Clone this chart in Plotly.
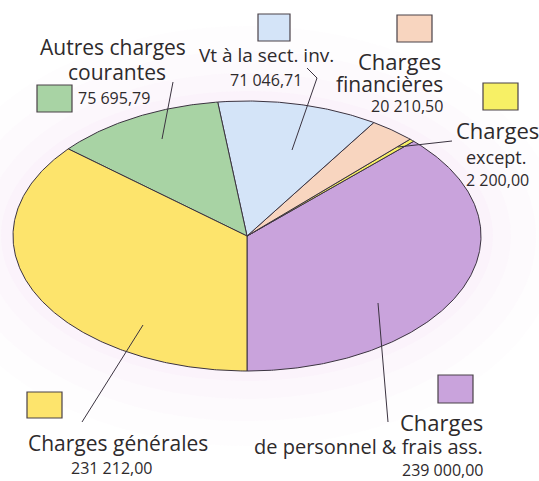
import numpy as np
import plotly.graph_objects as go

# ---- data ----
categories = ["Charges de personnel & frais ass.", "Charges except.", "Charges financières",
              "Vt à la sect. inv.", "Autres charges courantes", "Charges générales"]
values = [239000.00, 2200.00, 20210.50, 71046.71, 75695.79, 231212.00]
value_labels = ["239 000,00", "2 200,00", "20 210,50", "71 046,71", "75 695,79", "231 212,00"]
colors = ["#c9a3dc", "#f7f065", "#f8d5bf", "#d4e4f8", "#a8d3a4", "#fde46c"]

W, H = 539, 481
CX, CY, RX, RY = 247, 236, 234, 135   # pie centre / radii in pixels (layout)

def ax(px):
    return (px - CX) / RX

def ay(py):
    return (CY - py) / RY

fig = go.Figure()

# background halo
for gx, gy, a in [(80, 75, 0.06), (55, 50, 0.07), (30, 28, 0.08), (12, 10, 0.09)]:
    fig.add_shape(type="circle", xref="x", yref="y",
                  x0=ax(CX - RX - gx), x1=ax(CX + RX + gx),
                  y0=ay(CY + RY + gy), y1=ay(CY - RY - gy),
                  fillcolor=f"rgba(240,215,240,{a})", line_width=0, layer="below")

total = sum(values)
start = -90.0
for cat, v, c in zip(categories, values, colors):
    sweep = 360.0 * v / total
    t = np.radians(np.linspace(start, start + sweep, max(int(sweep * 2), 4)))
    xs = np.concatenate([[0], np.cos(t), [0]])
    ys = np.concatenate([[0], np.sin(t), [0]])
    fig.add_trace(go.Scatter(x=xs, y=ys, fill="toself", fillcolor=c, mode="lines",
                             line=dict(color="#3b3340", width=1), name=cat,
                             hoverinfo="text", text=cat))
    start += sweep

FONT = "Open Sans"
TXT = "#2e2a2c"
SMALL = 16

def label(px, py, text, size, anchor="center"):
    fig.add_annotation(x=ax(px), y=ay(py), xref="x", yref="y", text=text, showarrow=False,
                       xanchor=anchor, yanchor="middle", borderpad=0,
                       font=dict(family=FONT, size=size, color=TXT))

def swatch(x0, y0, x1, y1, c):
    fig.add_shape(type="rect", xref="x", yref="y", x0=ax(x0), x1=ax(x1), y0=ay(y1), y1=ay(y0),
                  fillcolor=c, line=dict(color="#4a4248", width=1.2))

def leader(pts):
    path = "M " + " L ".join(f"{ax(x)},{ay(y)}" for x, y in pts)
    fig.add_shape(type="path", xref="x", yref="y", path=path,
                  line=dict(color="#3b3340", width=1))

# Autres charges courantes
label(113, 47, "Autres charges", 21)
label(117, 72, "courantes", 21)
swatch(37, 85, 72, 112, colors[4])
label(77, 98, value_labels[4], SMALL, "left")
leader([(173, 82), (162, 139)])

# Vt à la sect. inv.
swatch(258, 14, 290, 41, colors[3])
label(266, 55, "Vt à la sect. inv.", 19)
label(266, 80, value_labels[3], SMALL)
leader([(307, 68), (317, 78), (292, 150)])

# Charges financières
swatch(397, 15, 432, 42, colors[2])
label(442, 61, "Charges", 22, "right")
label(444, 84, "financières", 21, "right")
label(444, 106, value_labels[2], SMALL, "right")

# Charges except.
swatch(483, 83, 518, 110, colors[1])
label(455, 130, "Charges", 22, "left")
label(465, 157, "except.", 18, "left")
label(465, 180, value_labels[1], SMALL, "left")
leader([(452, 141), (398, 147)])

# Charges générales
swatch(27, 392, 62, 418, colors[5])
label(118, 443, "Charges générales", 21)
label(111, 468, value_labels[5], SMALL)
leader([(82, 422), (143, 325)])

# Charges de personnel
swatch(438, 375, 473, 403, colors[0])
label(484, 422, "Charges", 22, "right")
label(484, 446, "de personnel & frais ass.", 20, "right")
label(484, 470, value_labels[0], SMALL, "right")
leader([(388, 422), (378, 303)])

fig.update_layout(width=W, height=H, margin=dict(l=0, r=0, t=0, b=0),
                  paper_bgcolor="white", plot_bgcolor="rgba(0,0,0,0)", showlegend=False,
                  xaxis=dict(range=[ax(0), ax(W)], visible=False, fixedrange=True),
                  yaxis=dict(range=[ay(H), ay(0)], visible=False, fixedrange=True))

fig.write_html("out.html", config={"displayModeBar": False},
               post_script="document.body.style.margin='0';document.body.style.overflow='hidden';")
